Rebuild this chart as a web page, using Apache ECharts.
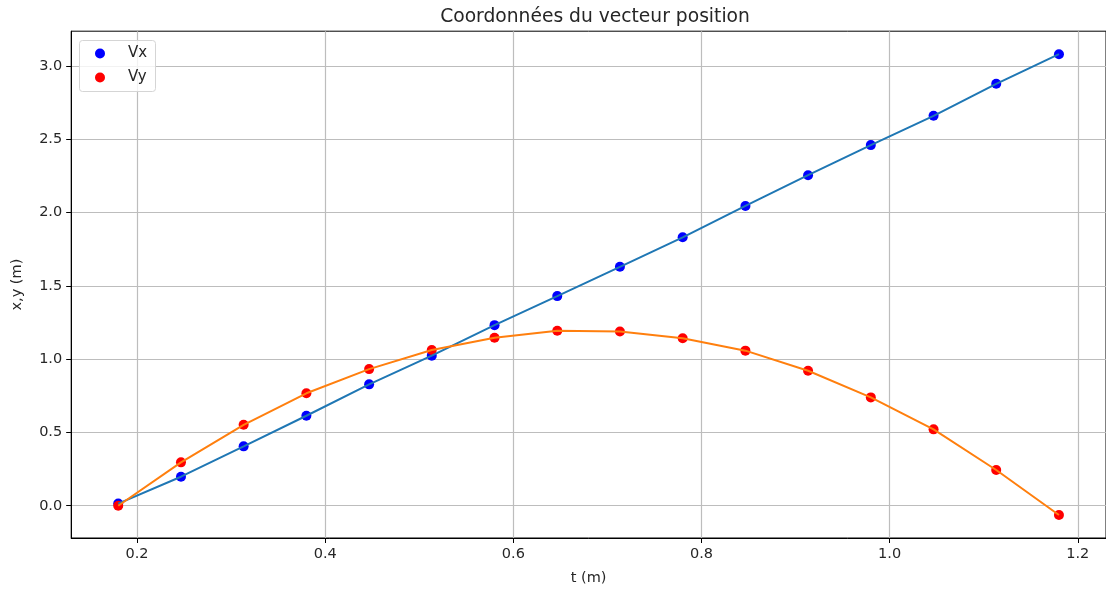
<!DOCTYPE html>
<html>
<head>
<meta charset="utf-8">
<script src="https://cdn.jsdelivr.net/npm/echarts@6/dist/echarts.min.js"></script>
<style>
  html, body { margin: 0; padding: 0; background: #fff; }
  #chart { width: 1106px; height: 592px; }
</style>
</head>
<body>
<div id="chart"></div>
<script>
// Sample times (s) and measured coordinates
const t  = [0.18, 0.2467, 0.3133, 0.38, 0.4467, 0.5133, 0.58, 0.6467, 0.7133, 0.78, 0.8467, 0.9133, 0.98, 1.0467, 1.1133, 1.18];
const vx = [0.015, 0.198, 0.405, 0.614, 0.828, 1.024, 1.232, 1.430, 1.630, 1.831, 2.045, 2.255, 2.460, 2.660, 2.878, 3.080];
const vy = [0.0, 0.296, 0.552, 0.767, 0.932, 1.062, 1.146, 1.194, 1.188, 1.142, 1.058, 0.921, 0.739, 0.521, 0.244, -0.063];

const xTicks = [0.2, 0.4, 0.6, 0.8, 1.0, 1.2];
const yTicks = [0.0, 0.5, 1.0, 1.5, 2.0, 2.5, 3.0];

const seriesNames = ['Vx', 'Vy'];
const titleText = 'Coordonnées du vecteur position';
const xName = 't (m)';
const yName = 'x,y (m)';

const FONT = 'DejaVu Sans';
const TXT = '#262626';

const pairs = (xs, ys) => xs.map((x, i) => [x, ys[i]]);

const chart = echarts.init(document.getElementById('chart'), null, { renderer: 'canvas' });

const axisCommon = {
  type: 'value',
  axisLine: { show: true, onZero: false, lineStyle: { color: '#000', width: 1 } },
  axisTick: { show: true, length: 5, inside: false, lineStyle: { color: '#000', width: 1 } },
  splitLine: { show: true, lineStyle: { color: '#bdbdbd', width: 1.2 } },
  axisLabel: { fontFamily: FONT, fontSize: 14.5, color: TXT, margin: 9, formatter: v => v.toFixed(1) },
  nameLocation: 'middle',
  nameTextStyle: { fontFamily: FONT, fontSize: 14.5, color: TXT }
};

chart.setOption({
  animation: false,
  backgroundColor: '#fff',
  title: {
    text: titleText,
    left: 590,
    top: 3,
    textAlign: 'center',
    textStyle: { fontFamily: FONT, fontSize: 18.7, fontWeight: 'normal', color: TXT }
  },
  // the frame's right edge falls just past the canvas
  grid: {
    left: 71.2, top: 31.2, width: 1038.8, height: 506.8, containLabel: false,
    show: true, borderColor: '#000', borderWidth: 1, backgroundColor: 'transparent'
  },
  xAxis: Object.assign({}, axisCommon, {
    min: 0.13, max: 1.23,
    name: xName, nameGap: 33,
    axisTick: Object.assign({}, axisCommon.axisTick, { customValues: xTicks }),
    axisLabel: Object.assign({}, axisCommon.axisLabel, { customValues: xTicks })
  }),
  yAxis: Object.assign({}, axisCommon, {
    min: -0.22, max: 3.237,
    name: yName, nameGap: 46, nameRotate: 90,
    axisTick: Object.assign({}, axisCommon.axisTick, { customValues: yTicks }),
    axisLabel: Object.assign({}, axisCommon.axisLabel, { customValues: yTicks })
  }),
  legend: {
    data: seriesNames,
    orient: 'vertical',
    left: 95, top: 46,
    padding: 0,
    itemGap: 9,
    itemWidth: 10, itemHeight: 10,
    icon: 'circle',
    textStyle: { fontFamily: FONT, fontSize: 15, color: TXT, padding: [0, 0, 0, 18] }
  },
  graphic: [{
    type: 'rect', z: 3, silent: true,
    shape: { x: 79.5, y: 40.5, width: 76, height: 51, r: 3 },
    style: { fill: 'rgba(255,255,255,0.8)', stroke: '#d5d5d5', lineWidth: 1 }
  }],
  series: [
    {
      name: seriesNames[0], type: 'scatter', data: pairs(t, vx),
      symbol: 'circle', symbolSize: 10, itemStyle: { color: '#0000ff', opacity: 1 }, z: 2
    },
    {
      name: seriesNames[1], type: 'scatter', data: pairs(t, vy),
      symbol: 'circle', symbolSize: 10, itemStyle: { color: '#ff0000', opacity: 1 }, z: 3
    },
    {
      name: 'x', type: 'line', data: pairs(t, vx), showSymbol: false, symbol: 'none',
      lineStyle: { color: '#1f77b4', width: 2 }, itemStyle: { color: '#1f77b4' }, z: 4
    },
    {
      name: 'y', type: 'line', data: pairs(t, vy), showSymbol: false, symbol: 'none',
      lineStyle: { color: '#ff7f0e', width: 2 }, itemStyle: { color: '#ff7f0e' }, z: 5
    }
  ]
});
</script>
</body>
</html>
